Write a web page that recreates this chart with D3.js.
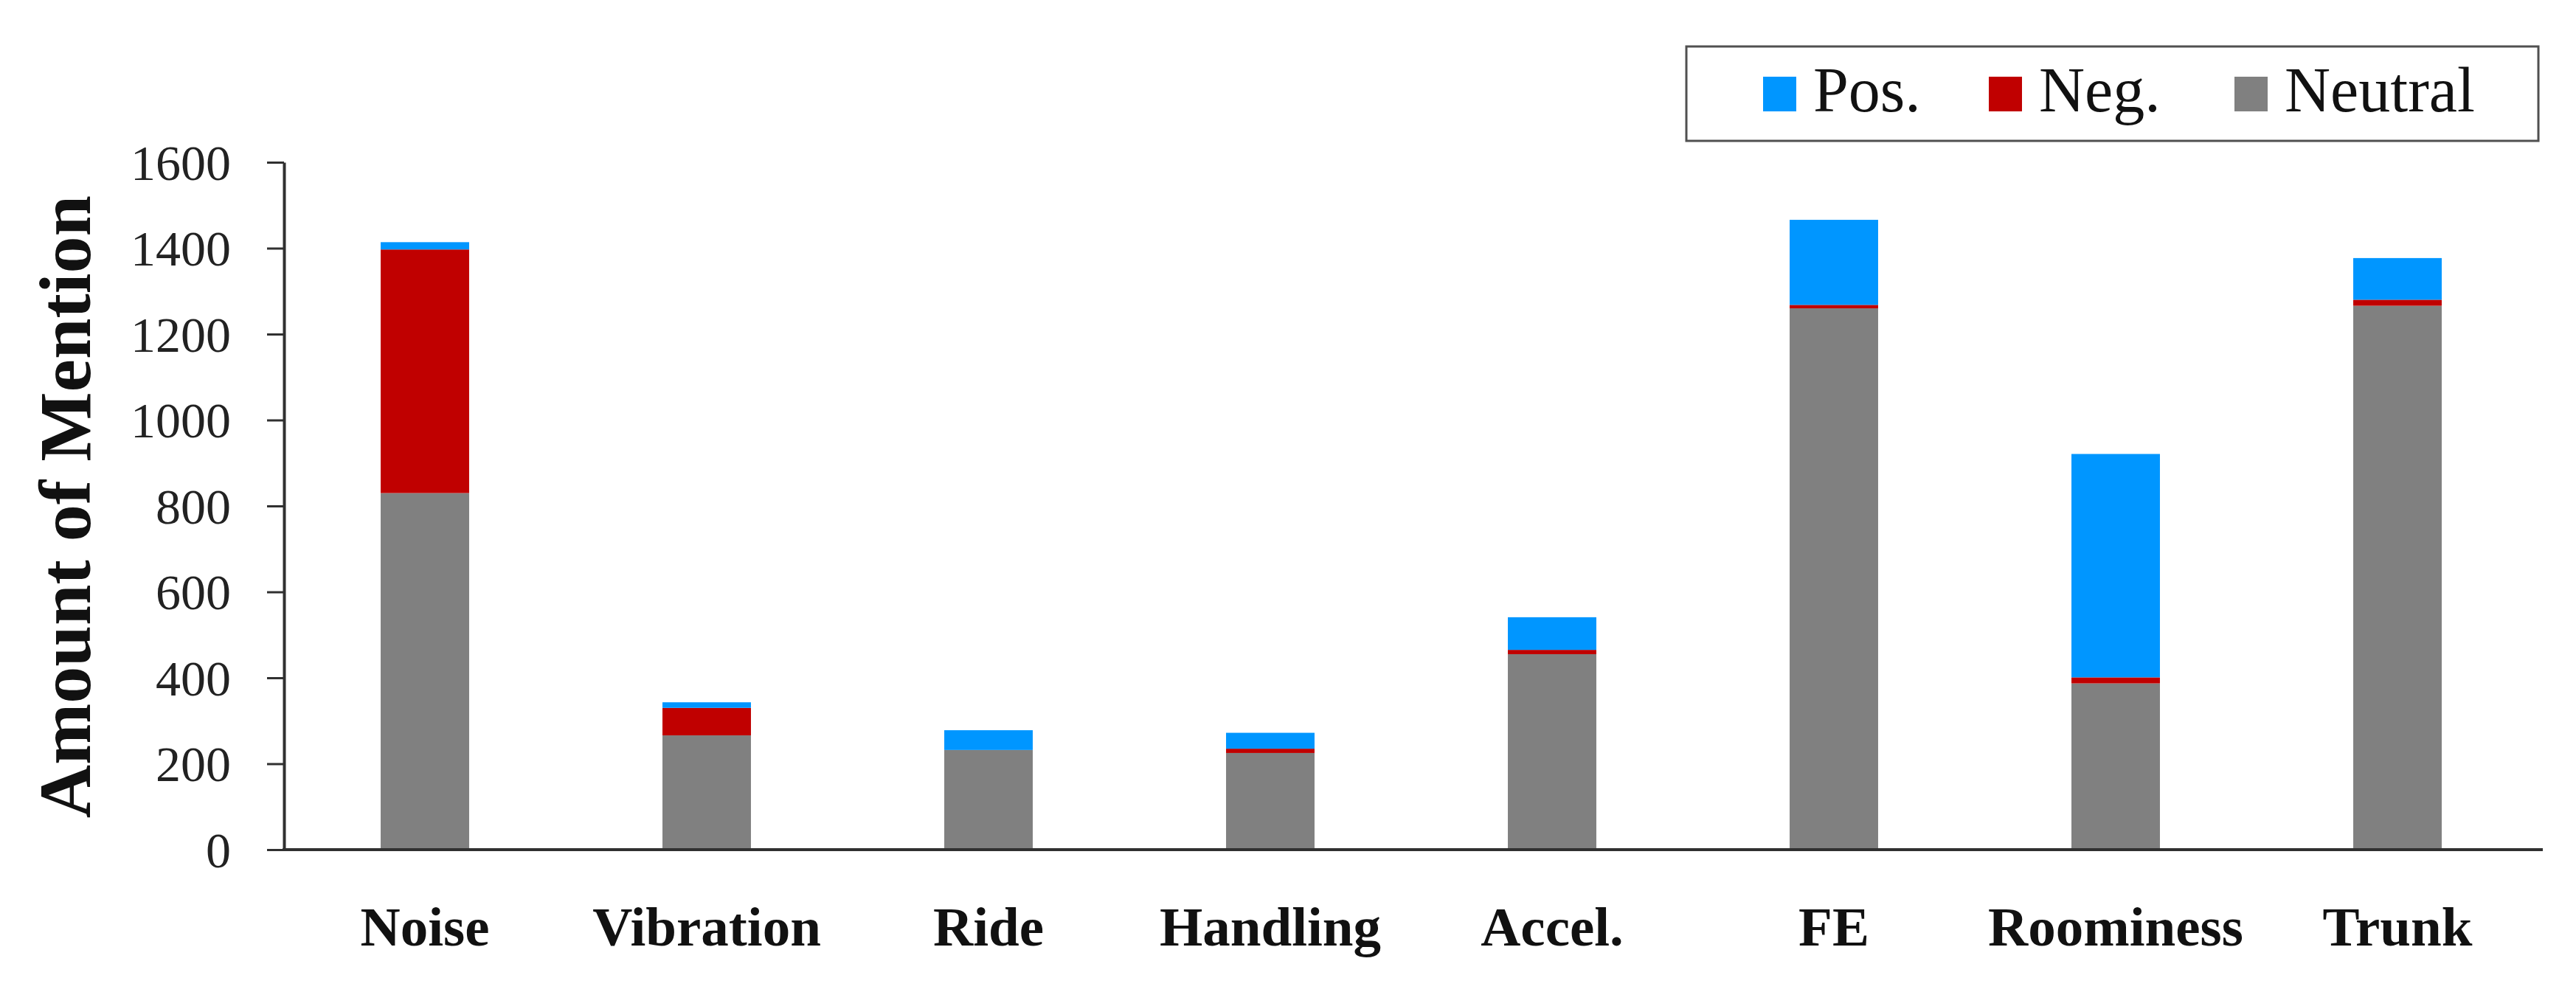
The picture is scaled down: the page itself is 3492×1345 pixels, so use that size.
<!DOCTYPE html>
<html>
<head>
<meta charset="utf-8">
<script src="https://cdn.jsdelivr.net/npm/d3@7"></script>
<style>
  html, body { margin: 0; padding: 0; background: #fff; }
  svg { display: block; }
</style>
</head>
<body>
<svg id="chart" width="3492" height="1345"></svg>
<script>
const categories = ["Noise", "Vibration", "Ride", "Handling", "Accel.", "FE", "Roominess", "Trunk"];
const neutralValues = [830, 266, 232, 225, 455, 1260, 387, 1266];
const negValues     = [567, 64, 0, 10, 10, 8, 14, 14];
const posValues     = [17, 13, 46, 37, 76, 198, 520, 97];
const yTicks = [0, 200, 400, 600, 800, 1000, 1200, 1400, 1600];
const seriesKeys = ["Neutral", "Neg.", "Pos."];
const legendKeys = ["Pos.", "Neg.", "Neutral"];
const colors = { "Pos.": "#0096FF", "Neg.": "#C00000", "Neutral": "#808080" };

const rows = categories.map((c, i) => ({
  cat: c, "Neutral": neutralValues[i], "Neg.": negValues[i], "Pos.": posValues[i]
}));

const svg = d3.select("#chart");
const plotLeft = 385, plotRight = 3441, plotTop = 220, plotBottom = 1152;

const x = d3.scaleBand().domain(categories).range([plotLeft, plotRight])
  .paddingInner(0.686).paddingOuter(0.343);
const y = d3.scaleLinear().domain([0, 1600]).range([plotBottom, plotTop]);

const stacked = d3.stack().keys(seriesKeys)(rows);

svg.append("g").selectAll("g").data(stacked).join("g")
  .attr("fill", d => colors[d.key])
  .selectAll("rect").data(d => d).join("rect")
  .attr("x", d => x(d.data.cat))
  .attr("width", x.bandwidth())
  .attr("y", d => y(d[1]))
  .attr("height", d => Math.max(0, y(d[0]) - y(d[1])));

// Y axis
const yAxis = svg.append("g")
  .attr("transform", `translate(${plotLeft},0)`)
  .call(d3.axisLeft(y).tickValues(yTicks).tickFormat(d3.format("d"))
    .tickSize(23).tickSizeOuter(0).tickPadding(49));
yAxis.select(".domain").attr("stroke", "#303030").attr("stroke-width", 4);
yAxis.selectAll(".tick line").attr("stroke", "#303030").attr("stroke-width", 3);
yAxis.selectAll(".tick text")
  .attr("font-family", "'Liberation Serif', serif")
  .attr("font-size", 68)
  .attr("fill", "#222")
  .attr("dy", "0.34em");

// X axis
const xAxis = svg.append("g")
  .attr("transform", `translate(0,${plotBottom})`)
  .call(d3.axisBottom(x).tickSize(0).tickSizeOuter(0).tickPadding(0));
xAxis.select(".domain").attr("stroke", "#303030").attr("stroke-width", 4)
  .attr("d", `M${plotLeft - 2},0H${plotRight + 6}`);
xAxis.selectAll(".tick text")
  .attr("font-family", "'Liberation Serif', serif")
  .attr("font-weight", "bold")
  .attr("font-size", 75)
  .attr("fill", "#111")
  .attr("y", 130)
  .attr("dy", 0);

// Y title
svg.append("text")
  .attr("transform", `translate(122,687) rotate(-90)`)
  .attr("text-anchor", "middle")
  .attr("font-family", "'Liberation Serif', serif")
  .attr("font-weight", "bold")
  .attr("font-size", 100)
  .attr("fill", "#111")
  .text("Amount of Mention");

// Legend
const legend = svg.append("g");
legend.append("rect")
  .attr("x", 2286).attr("y", 63).attr("width", 1155).attr("height", 128)
  .attr("fill", "#fff").attr("stroke", "#505050").attr("stroke-width", 3);
const legendX = { "Pos.": 2390, "Neg.": 2696, "Neutral": 3029 };
legendKeys.forEach(k => {
  legend.append("rect")
    .attr("x", legendX[k]).attr("y", 104).attr("width", 45).attr("height", 47)
    .attr("fill", colors[k]);
  legend.append("text")
    .attr("x", legendX[k] + 68).attr("y", 151)
    .attr("font-family", "'Liberation Serif', serif")
    .attr("font-size", 86)
    .attr("fill", "#111")
    .text(k);
});
</script>
</body>
</html>
